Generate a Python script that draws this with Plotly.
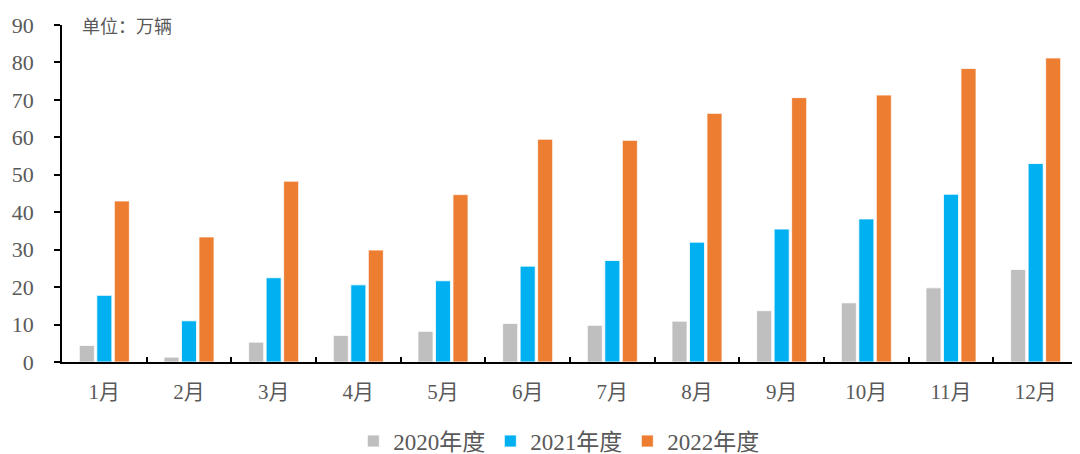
import plotly.graph_objects as go

months = ["1月", "2月", "3月", "4月", "5月", "6月", "7月", "8月", "9月", "10月", "11月", "12月"]
series_names = ["2020年度", "2021年度", "2022年度"]
v2020 = [4.4, 1.3, 5.3, 7.1, 8.2, 10.3, 9.8, 10.9, 13.7, 15.8, 19.8, 24.7]
v2021 = [17.8, 11.0, 22.5, 20.6, 21.7, 25.6, 27.1, 32.0, 35.5, 38.2, 44.8, 53.0]
v2022 = [43.0, 33.4, 48.3, 29.9, 44.7, 59.5, 59.2, 66.4, 70.6, 71.3, 78.4, 81.2]
colors = ["#BFBFBF", "#00B0F0", "#ED7D31"]

fig = go.Figure()
for name, vals, c in zip(series_names, [v2020, v2021, v2022], colors):
    fig.add_trace(go.Bar(x=months, y=vals, name=name, marker_color=c,
                         marker_line_color="white", marker_line_width=0.8))

serif = "Liberation Serif, Times New Roman, Noto Sans CJK SC, serif"
fig.update_layout(
    width=1072, height=446,
    margin=dict(l=54, r=2, t=17, b=92),
    plot_bgcolor="white", paper_bgcolor="white",
    barmode="group", bargap=0.38, bargroupgap=0.14,
    font=dict(family=serif, color="#595959"),
    legend=dict(orientation="h", xref="paper", x=0.489, xanchor="center",
                yref="container", y=0.029, yanchor="middle",
                font=dict(size=23, family=serif, color="#595959"),
                itemwidth=30, traceorder="normal"),
    showlegend=True,
)
fig.update_xaxes(
    showline=True, linecolor="black", linewidth=2,
    ticks="inside", tickson="boundaries", ticklen=5, tickwidth=2, tickcolor="black",
    tickfont=dict(size=21, family=serif, color="#595959"),
    ticklabelstandoff=10,
    showgrid=False,
)
fig.update_yaxes(
    range=[0, 90], dtick=10, showline=True, linecolor="black", linewidth=1.5,
    ticks="outside", ticklen=6, tickcolor="black", tickwidth=1.5,
    tickfont=dict(size=22, family=serif, color="#595959"),
    ticklabelstandoff=16,
    showgrid=False, zeroline=False,
)
fig.add_annotation(text="单位：万辆", xref="paper", yref="paper", x=0.018, y=1.0,
                   xanchor="left", yanchor="middle", showarrow=False,
                   font=dict(size=18, family="Noto Sans CJK SC", color="#595959"))

fig.write_html("out.html")
